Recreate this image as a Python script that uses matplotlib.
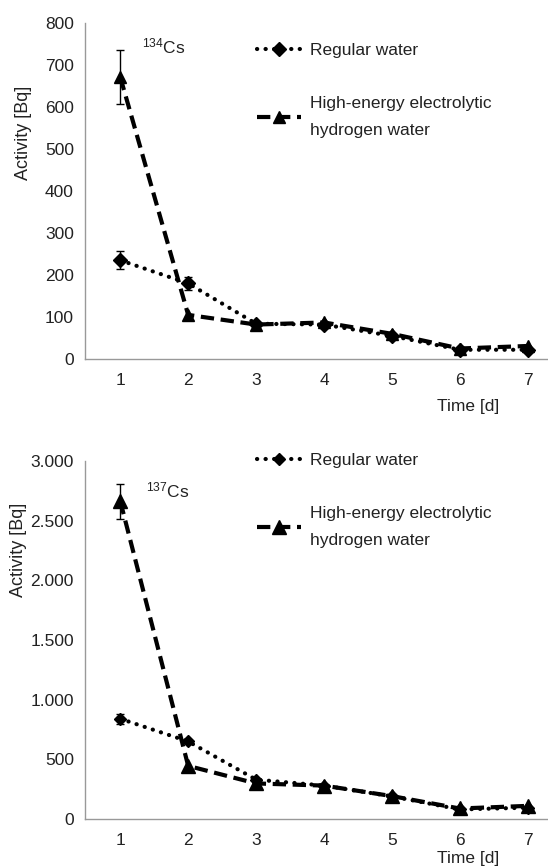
import matplotlib
matplotlib.use("Agg")
import matplotlib.pyplot as plt
import numpy as np
from matplotlib.ticker import MultipleLocator, FuncFormatter

plt.rcParams.update({
    "font.family": ["Liberation Sans", "DejaVu Sans"],
    "font.size": 12.5,
    "mathtext.fontset": "custom",
    "mathtext.rm": "Liberation Sans",
    "text.color": "#222222",
    "xtick.color": "#222222",
    "ytick.color": "#222222",
})

days = [1, 2, 3, 4, 5, 6, 7]

# 134Cs
cs134_regular = [235, 180, 84, 82, 55, 22, 22]
cs134_regular_err = [21, 16, 0, 0, 0, 0, 0]
cs134_high = [671, 105, 82, 87, 60, 25, 31]
cs134_high_err = [65, 0, 0, 0, 0, 0, 0]

# 137Cs
cs137_regular = [840, 650, 330, 280, 190, 80, 95]
cs137_regular_err = [42, 0, 0, 0, 0, 0, 0]
cs137_high = [2663, 445, 298, 280, 192, 88, 110]
cs137_high_err = [148, 0, 0, 0, 0, 0, 0]

labels = ["Regular water", "High-energy electrolytic\nhydrogen water"]

W, H = 548, 868


def dot_fmt(v, _):
    return f"{int(round(v)):,}".replace(",", ".")


def draw_panel(ax, reg, reg_err, high, high_err, ymax, ystep, iso, ms_d, ms_t,
               leg_y, iso_xy):
    x = np.array(days)
    ax.plot(x, reg, color="black", lw=3.0, linestyle=(0, (0.05, 2.0)),
            dash_capstyle="round", marker="D", ms=ms_d, zorder=3,
            label=labels[0])
    ax.plot(x, high, color="black", lw=3.0, linestyle=(0, (3.2, 1.6)),
            marker="^", ms=ms_t, zorder=4, label=labels[1])
    for vals, errs in [(reg, reg_err), (high, high_err)]:
        m = np.array(errs) > 0
        if m.any():
            ax.errorbar(x[m], np.array(vals)[m], yerr=np.array(errs)[m],
                        fmt="none", ecolor="black", elinewidth=1.0,
                        capsize=3, capthick=1.0, zorder=5)

    ax.set_xlim(0.48, 7.3)
    ax.set_ylim(0, ymax)
    ax.set_xticks(days)
    ax.yaxis.set_major_locator(MultipleLocator(ystep))
    ax.yaxis.set_major_formatter(FuncFormatter(dot_fmt))
    ax.tick_params(axis="both", length=0, labelsize=12.5)
    ax.tick_params(axis="y", pad=8)
    ax.tick_params(axis="x", pad=10)
    for s in ["top", "right"]:
        ax.spines[s].set_visible(False)
    for s in ["left", "bottom"]:
        ax.spines[s].set_color("#999999")
        ax.spines[s].set_linewidth(1.0)

    ax.text(iso_xy[0] / W, 1 - iso_xy[1] / H, iso, transform=ax.figure.transFigure,
            ha="left", va="center", fontsize=12.5)

    leg = ax.legend(loc="upper left", bbox_to_anchor=(257 / W, 1 - leg_y / H),
                    bbox_transform=ax.figure.transFigure, frameon=False,
                    borderpad=0, borderaxespad=0, handlelength=2.55,
                    handletextpad=0.5, labelspacing=2.2, fontsize=12.5)
    for t in leg.get_texts():
        t.set_linespacing(1.95)
    return leg


fig = plt.figure(figsize=(W / 100, H / 100), dpi=100)

ax1 = fig.add_axes([85 / W, (H - 359) / H, (W - 85) / W, 336 / H])
draw_panel(ax1, cs134_regular, cs134_regular_err, cs134_high, cs134_high_err,
           800, 100, r"$\mathregular{^{134}}$Cs", 7, 8, 43, (142, 46))

ax2 = fig.add_axes([85 / W, (H - 819) / H, (W - 85) / W, 358 / H])
draw_panel(ax2, cs137_regular, cs137_regular_err, cs137_high, cs137_high_err,
           3000, 500, r"$\mathregular{^{137}}$Cs", 6, 10, 453, (146, 490))

fig.text(24 / W, 1 - 133 / H, "Activity [Bq]", rotation=90, ha="center",
         va="center", fontsize=13)
fig.text(19 / W, 1 - 550 / H, "Activity [Bq]", rotation=90, ha="center",
         va="center", fontsize=13)
fig.text(468 / W, 1 - 406 / H, "Time [d]", ha="center", va="center", fontsize=12.5)
fig.text(468 / W, 1 - 859 / H, "Time [d]", ha="center", va="center", fontsize=12.5)

fig.savefig("out.png", dpi=100)
